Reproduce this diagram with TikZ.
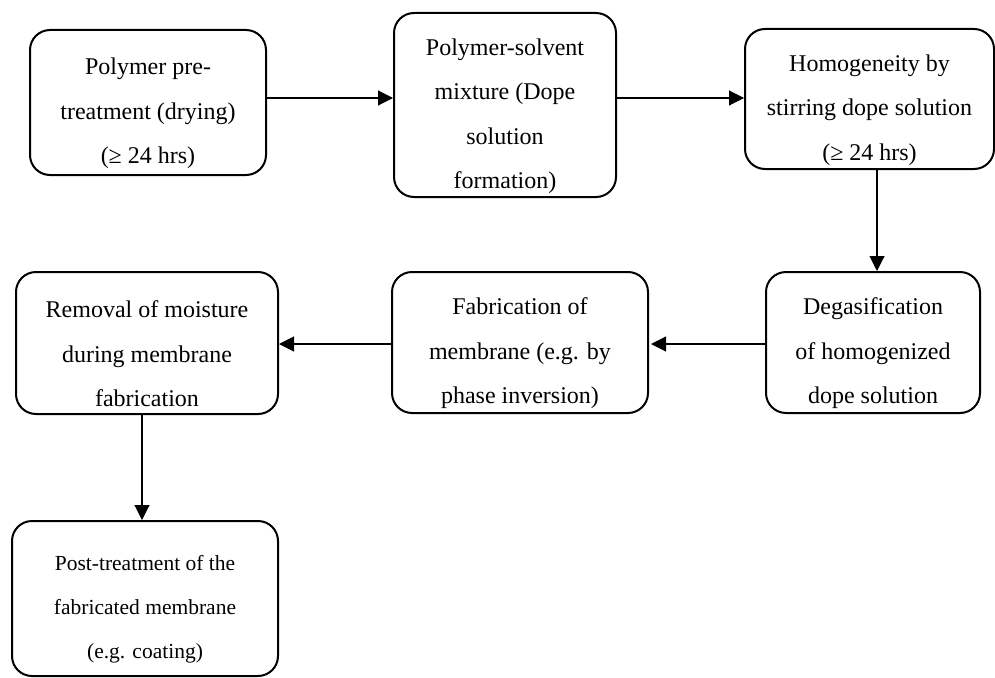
\documentclass[tikz,border=0pt]{standalone}
\usepackage{fontspec}
\setmainfont{Liberation Serif}
\usetikzlibrary{arrows.meta}

\tikzset{
  stepbox/.style={draw, line width=2pt, rounded corners=20pt, inner sep=0pt},
  steptext/.style={align=center, inner sep=0pt, font=\fontsize{24}{44.5}\selectfont},
  smalltext/.style={font=\fontsize{21.5}{44}\selectfont},
  flow/.style={line width=1.1pt, -{Triangle[length=15pt,width=15pt]}}
}

% a box from its corner coordinates (x1,y1)-(x2,y2), with its text node <name>t
\newcommand\boxat[7][]{%
  \node[stepbox, minimum width={(#5)-(#3)}, minimum height={(#6)-(#4)}]
    (#2) at ({((#3)+(#5))/2},{((#4)+(#6))/2}) {};
  \node[steptext,#1] (#2t) at ([yshift=-11pt]#2.center) {#7};}

\begin{document}
\begin{tikzpicture}[x=1pt, y=-1pt]
  \useasboundingbox (0,0) rectangle (995,677);

  \boxat{b1}{30}{30}{266}{175}{Polymer pre-\\treatment (drying)\\(≥ 24 hrs)}
  \boxat{b2}{394}{13}{616}{197}{Polymer-solvent\\mixture (Dope\\solution\\formation)}
  \boxat{b3}{745}{29}{994}{169}{Homogeneity by\\stirring dope solution\\(≥ 24 hrs)}
  \boxat{b4}{766}{272}{980}{413}{Degasification\\of homogenized\\dope solution}
  \boxat{b5}{392}{272}{648}{413}{Fabrication of\\membrane (e.g. by\\phase inversion)}
  \boxat{b6}{16}{272}{278}{414}{Removal of moisture\\during membrane\\fabrication}
  \boxat[smalltext]{b7}{12}{521}{278}{676}{Post-treatment of the\\fabricated membrane\\(e.g. coating)}

  % levels of the connectors
  \coordinate (ra) at (0,98);
  \coordinate (rb) at (0,344);
  \coordinate (ca) at (877,0);
  \coordinate (cb) at (142,0);

  \draw[flow] (b1.east |- ra) -- (b2.west |- ra);
  \draw[flow] (b2.east |- ra) -- (b3.west |- ra);
  \draw[flow] (b3.south -| ca) -- (b4.north -| ca);
  \draw[flow] (b4.west |- rb) -- ([xshift=2pt]b5.east |- rb);
  \draw[flow] (b5.west |- rb) -- (b6.east |- rb);
  \draw[flow] (b6.south -| cb) -- (b7.north -| cb);
\end{tikzpicture}
\end{document}
